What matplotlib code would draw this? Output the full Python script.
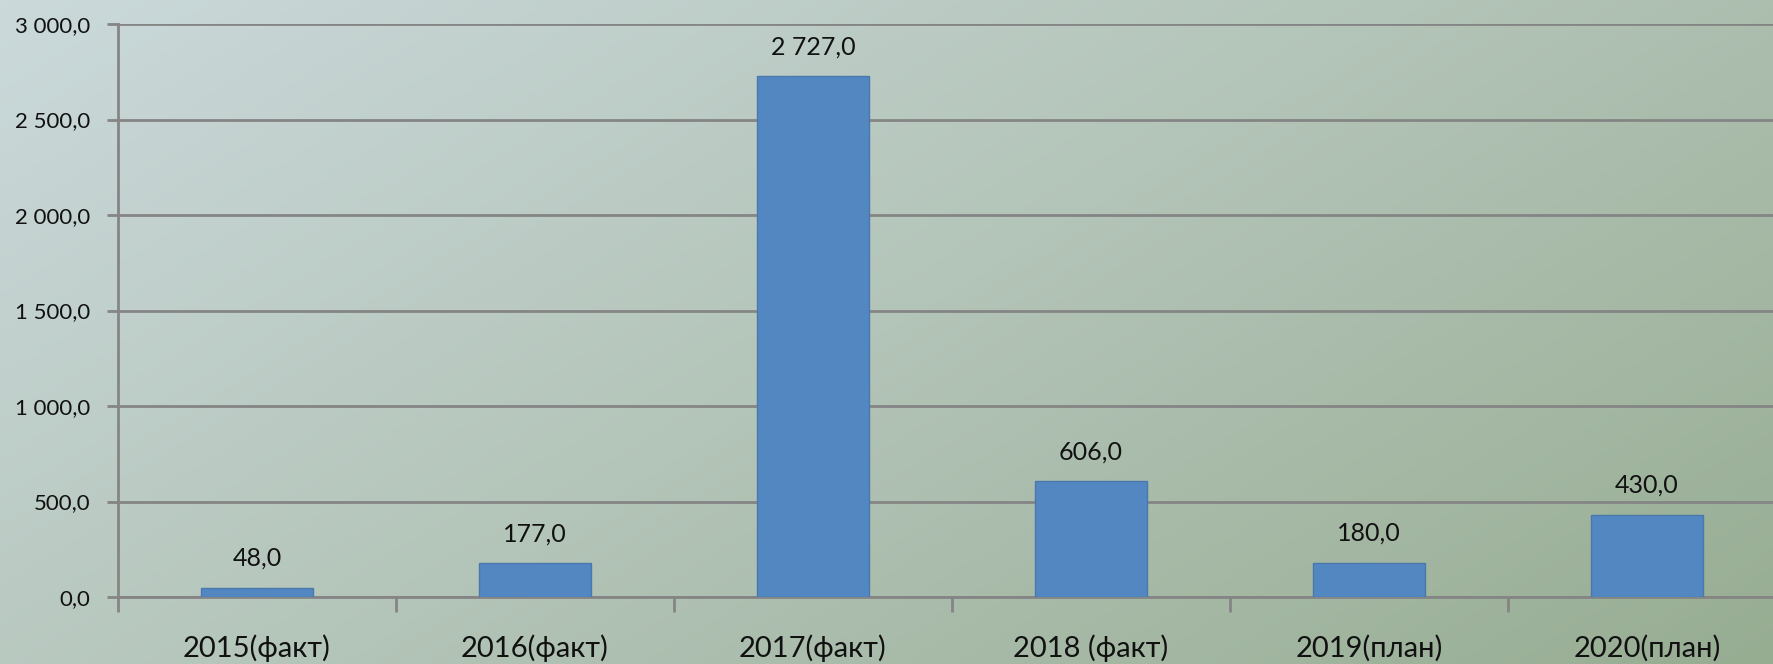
import numpy as np
import matplotlib
matplotlib.use("Agg")
import matplotlib.pyplot as plt
from matplotlib.colors import LinearSegmentedColormap

categories = ["2015(факт)", "2016(факт)", "2017(факт)", "2018 (факт)", "2019(план)", "2020(план)"]
values = [48.0, 177.0, 2727.0, 606.0, 180.0, 430.0]
y_ticks = [0, 500, 1000, 1500, 2000, 2500, 3000]

plt.rcParams["font.family"] = ["Lato", "DejaVu Sans"]

W, H, DPI = 1773, 664, 100
fig = plt.figure(figsize=(W / DPI, H / DPI), dpi=DPI)

# diagonal gradient background
bg = fig.add_axes([0, 0, 1, 1])
xx, yy = np.meshgrid(np.linspace(0, 1, 400), np.linspace(0, 1, 200))
t = np.clip(0.62 * xx + 0.38 * yy, 0, 1)
cmap = LinearSegmentedColormap.from_list("bg", ["#cbd9db", "#b3c4b8", "#97ad92"])
bg.imshow(t, cmap=cmap, aspect="auto", extent=[0, 1, 0, 1], origin="upper")
bg.set_axis_off()

left, right = 118 / W, 1786 / W
bottom, top = 1 - 597 / H, 1 - 24 / H
ax = fig.add_axes([left, bottom, right - left, top - bottom])
ax.set_facecolor("none")

x = np.arange(len(categories))
bars = ax.bar(x, values, width=0.40, color="#5287c1", edgecolor="#4a78ad", linewidth=1, zorder=3)

ax.set_xlim(-0.5, len(categories) - 0.5)
ax.set_ylim(0, 3000)
ax.set_yticks(y_ticks)

def fmt(v):
    s = f"{v:,.1f}"
    return s.replace(",", " ").replace(".", ",")

ax.set_yticklabels([fmt(v) for v in y_ticks], fontsize=16, color="#111111")
ax.yaxis.grid(True, color="#858585", linewidth=2, zorder=1)
ax.tick_params(axis="y", length=8, width=2, color="#858585", pad=12)

ax.set_xticks(x)
ax.set_xticklabels(categories, fontsize=21, color="#111111")
ax.tick_params(axis="x", which="major", length=0, pad=27)
ax.set_xticks(np.arange(-0.5, len(categories) + 0.5, 1), minor=True)
ax.tick_params(axis="x", which="minor", length=11, width=2, color="#858585")

for s in ["top", "right"]:
    ax.spines[s].set_visible(False)
for s in ["left", "bottom"]:
    ax.spines[s].set_color("#858585")
    ax.spines[s].set_linewidth(2)

for xi, v in zip(x, values):
    ax.annotate(fmt(v), (xi, v), xytext=(0, 13), textcoords="offset points",
                ha="center", va="bottom", fontsize=18, color="#111111")

fig.savefig("out.png", dpi=DPI)
